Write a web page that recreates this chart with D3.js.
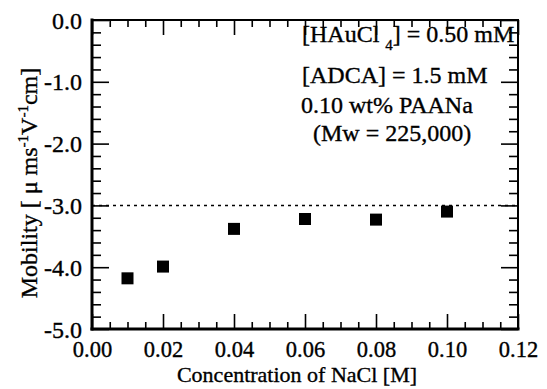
<!DOCTYPE html>
<html><head><meta charset="utf-8">
<script src="https://cdn.jsdelivr.net/npm/d3@7"></script>
<style>body{margin:0;background:#fff}svg{display:block}</style>
</head><body>
<svg id="c" width="547" height="389"></svg>
<script>
const concentration = [0.01, 0.02, 0.04, 0.06, 0.08, 0.10];
const mobility = [-4.18, -3.99, -3.38, -3.22, -3.23, -3.10];
const xTicks = [0.00, 0.02, 0.04, 0.06, 0.08, 0.10, 0.12];
const yTicks = [0.0, -1.0, -2.0, -3.0, -4.0, -5.0];
const referenceLine = [-3.0];
const annotations = ["[HAuCl|4|] = 0.50 mM", "[ADCA] = 1.5 mM", "0.10 wt% PAANa", "(Mw = 225,000)"];

const FONT = "'Liberation Serif', 'Times New Roman', Times, 'DejaVu Serif', serif";
const W = 547, H = 389;
const m = {l: 92, r: 518, t: 20, b: 329};
const svg = d3.select("#c");
svg.append("rect").attr("width", W).attr("height", H).attr("fill", "#fff");

const x = d3.scaleLinear().domain([0, 0.12]).range([m.l, m.r]);
const y = d3.scaleLinear().domain([-5, 0]).range([m.b, m.t]);

const xMinor = d3.range(0, 0.1201, 0.005).filter(v => Math.abs(Math.round(v / 0.02) * 0.02 - v) > 1e-6);
const yMinor = d3.range(-5, 0.001, 0.2).filter(v => Math.abs(Math.round(v) - v) > 1e-6);

function txt(sel) {
  return sel.style("font-family", FONT).attr("fill", "#000").attr("stroke", "#000").attr("stroke-width", 0.35);
}
function styleAxis(g) {
  g.attr("font-family", null);
  g.select(".domain").remove();
  g.selectAll(".tick line").attr("stroke", "#000").attr("stroke-width", 1.6);
  txt(g.selectAll("text"));
}

// bottom
const gb = svg.append("g").attr("transform", `translate(0,${m.b})`)
  .call(d3.axisBottom(x).tickValues(xTicks).tickSize(-15).tickFormat(d => d.toFixed(2)));
styleAxis(gb);
gb.selectAll("text").attr("y", 28).attr("dy", 0).style("font-size", "22.5px");
svg.append("g").attr("transform", `translate(0,${m.b})`)
  .call(d3.axisBottom(x).tickValues(xMinor).tickSize(-7).tickFormat("")).call(styleAxis);
// top
svg.append("g").attr("transform", `translate(0,${m.t})`)
  .call(d3.axisTop(x).tickValues(xTicks).tickSize(-15).tickFormat("")).call(styleAxis);
svg.append("g").attr("transform", `translate(0,${m.t})`)
  .call(d3.axisTop(x).tickValues(xMinor).tickSize(-7).tickFormat("")).call(styleAxis);
// left
const gl = svg.append("g").attr("transform", `translate(${m.l},0)`)
  .call(d3.axisLeft(y).tickValues(yTicks).tickSize(-17).tickFormat(d => d.toFixed(1)));
styleAxis(gl);
gl.selectAll("text").attr("x", -10).attr("dy", "0.34em").style("font-size", "24px");
svg.append("g").attr("transform", `translate(${m.l},0)`)
  .call(d3.axisLeft(y).tickValues(yMinor).tickSize(-9).tickFormat("")).call(styleAxis);
// right
svg.append("g").attr("transform", `translate(${m.r},0)`)
  .call(d3.axisRight(y).tickValues(yTicks).tickSize(-17).tickFormat("")).call(styleAxis);
svg.append("g").attr("transform", `translate(${m.r},0)`)
  .call(d3.axisRight(y).tickValues(yMinor).tickSize(-9).tickFormat("")).call(styleAxis);

// frame (left/bottom heavier as in the original)
const frame = [
  {x1: m.l, y1: m.t, x2: m.r, y2: m.t, w: 2},
  {x1: m.r, y1: m.t, x2: m.r, y2: m.b, w: 2},
  {x1: m.l, y1: m.b, x2: m.r, y2: m.b, w: 3},
  {x1: m.l, y1: m.t, x2: m.l, y2: m.b, w: 3}
];
svg.selectAll(".frame").data(frame).enter().append("line")
  .attr("x1", d => d.x1).attr("y1", d => d.y1).attr("x2", d => d.x2).attr("y2", d => d.y2)
  .attr("stroke", "#000").attr("stroke-width", d => d.w).attr("stroke-linecap", "square");

// dashed reference line
svg.selectAll(".ref").data(referenceLine).enter().append("line")
  .attr("x1", m.l).attr("x2", m.r).attr("y1", d => y(d)).attr("y2", d => y(d))
  .attr("stroke", "#000").attr("stroke-width", 1.5).attr("stroke-dasharray", "3,4");

// markers
const s = 12;
svg.selectAll(".pt").data(concentration).enter().append("rect")
  .attr("x", d => x(d) - s / 2).attr("y", (d, i) => y(mobility[i]) - s / 2)
  .attr("width", s).attr("height", s).attr("fill", "#000");

// annotations
const annX = [302, 302, 301, 313];
const annY = [42, 83, 113, 141];
annotations.forEach((a, i) => {
  const t = txt(svg.append("text").attr("x", annX[i]).attr("y", annY[i])).style("font-size", "24px");
  const parts = a.split("|");
  if (parts.length === 3) {
    t.append("tspan").text(parts[0] + " ");
    t.append("tspan").attr("dy", 8).style("font-size", "15px").text(parts[1]);
    t.append("tspan").attr("dy", -8).text(parts[2]);
  } else t.text(a);
});

// axis titles
txt(svg.append("text").attr("x", 297).attr("y", 382).attr("text-anchor", "middle"))
  .style("font-size", "22px").text("Concentration of NaCl [M]");

const yt = txt(svg.append("text").attr("transform", "translate(37,183) rotate(-90)")
  .attr("text-anchor", "middle")).style("font-size", "24px");
yt.append("tspan").text("Mobility [ \u03bc ms");
yt.append("tspan").attr("dy", -9).style("font-size", "15px").text("-1");
yt.append("tspan").attr("dy", 9).text("V");
yt.append("tspan").attr("dy", -9).style("font-size", "15px").text("-1");
yt.append("tspan").attr("dy", 9).text("cm]");
</script>
</body></html>
